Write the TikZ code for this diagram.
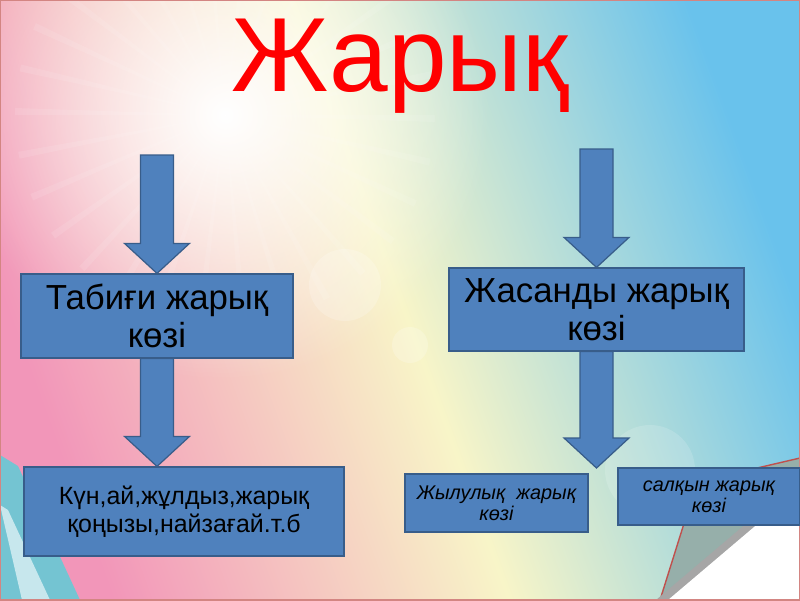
\documentclass[tikz,border=0pt]{standalone}
\usepackage{fontspec}
\setmainfont{Liberation Sans}
\usepackage{xcolor}
\definecolor{BoxBlue}   {RGB}{79, 129, 189}
\definecolor{BoxEdge}   {RGB}{56,  93, 138}
\definecolor{TitleRed}  {RGB}{255,  0,   0}
\definecolor{BgPink}    {RGB}{242, 150, 185}
\definecolor{BgYellow}  {RGB}{248, 245, 200}
\definecolor{BgBlue}    {RGB}{105, 194, 236}
\definecolor{BgTeal}    {RGB}{95, 205, 215}
\definecolor{FrameRed}  {RGB}{192,  80,  77}
\definecolor{FlapGray}  {RGB}{150, 175, 170}
\usepackage{tikz}
\usetikzlibrary{
  arrows.meta,
  calc,
  fadings
}
\tikzfading[name=sunglow,
  inner color=transparent!0,
  outer color=transparent!100]

% block arrow from a start point down to a tip
\newcommand{\blockarrow}[2]{%
  \filldraw[bigarrow] let \p1=(#1), \p2=(#2) in
    (\x1-0.33cm,\y1) -- (\x1+0.33cm,\y1)
    -- (\x1+0.33cm,\y2+0.6cm) -- (\x1+0.65cm,\y2+0.6cm)
    -- (\x1,\y2) -- (\x1-0.65cm,\y2+0.6cm)
    -- (\x1-0.33cm,\y2+0.6cm) -- cycle;}

\begin{document}
\begin{tikzpicture}[
  x=0.02cm, y=-0.02cm,
  box/.style={
    draw=BoxEdge, fill=BoxBlue,
    line width=0.7pt,
    inner sep=0pt,
    align=center, text=black
  },
  bigbox/.style={
    box,
    font=\fontsize{19.8}{21.5}\selectfont
  },
  listbox/.style={
    box,
    font=\fontsize{14.2}{16}\selectfont
  },
  smallbox/.style={
    box,
    font=\fontsize{11.3}{12.2}\selectfont\itshape
  },
  bigarrow/.style={
    draw=BoxEdge, fill=BoxBlue,
    line width=0.7pt, line join=miter
  },
  title/.style={
    text=TitleRed,
    font=\fontsize{60}{64}\selectfont,
    inner sep=0pt
  }
]

% background of the slide
\useasboundingbox (0,0) rectangle (800,600);
\begin{scope}
  \clip (0,0) rectangle (800,600);
  \shade[left color=BgPink, right color=BgBlue,
    middle color=BgYellow, shading angle=110]
    (0,0) rectangle (800,600);
  \fill[white, path fading=sunglow]
    (-40,-150) rectangle (490,380);
  \foreach \a in {0,12,...,348}
    \fill[white, opacity=0.1]
      (225,115) -- ++(\a:210) -- ++(\a+90:7) -- cycle;
  \fill[BgTeal, opacity=0.85]
    (0,455) -- (18,466) -- (80,600) -- (0,600) -- cycle;
  \fill[white, opacity=0.6]
    (0,505) -- (8,510) -- (50,600) -- (22,600) -- cycle;
  \fill[white, opacity=0.2] (345,285) circle (36);
  \fill[white, opacity=0.2] (410,345) circle (18);
  \fill[white, opacity=0.15] (650,470) circle (45);
  % folded corner
  \fill[FlapGray] (660,600) -- (697,482) -- (800,458)
    -- (800,482) -- cycle;
  \draw[FrameRed, line width=0.8pt]
    (660,600) -- (697,482) -- (800,458);
  \fill[gray!70] (656,600) -- (800,478) -- (800,490)
    -- (670,600) -- cycle;
  \fill[white] (668,600) -- (800,488) -- (800,600) -- cycle;
\end{scope}
\draw[FrameRed!70, line width=0.8pt] (0,0) rectangle (800,600);

\node[title, anchor=base] (ttl) at (400,91) {Жарық};

\node[bigbox, minimum width=5.44cm, minimum height=1.68cm]
  (nat) at (157,316) {Табиғи жарық\\көзі};
\node[bigbox, minimum width=5.9cm, minimum height=1.66cm]
  (art) at (596.5,309.5) {Жасанды жарық\\көзі};
\node[listbox, minimum width=6.4cm, minimum height=1.78cm]
  (ex) at (184,511.5) {Күн,ай,жұлдыз,жарық\\қоңызы,найзағай.т.б};
\node[smallbox, minimum width=3.66cm, minimum height=1.16cm]
  (heat) at (496.5,503) {Жылулық\ \ жарық\\көзі};
\node[smallbox, minimum width=3.64cm, minimum height=1.14cm]
  (cold) at (709,496.5) {салқын жарық\\көзі};

\coordinate (s1) at (157,155);
\coordinate (s2) at (596.5,149);
\coordinate (t4) at (600,468);

\blockarrow{s1}{nat.north}
\blockarrow{nat.south}{nat.south |- ex.north}
\blockarrow{s2}{art.north}
\blockarrow{art.south}{t4}
\end{tikzpicture}
\end{document}
